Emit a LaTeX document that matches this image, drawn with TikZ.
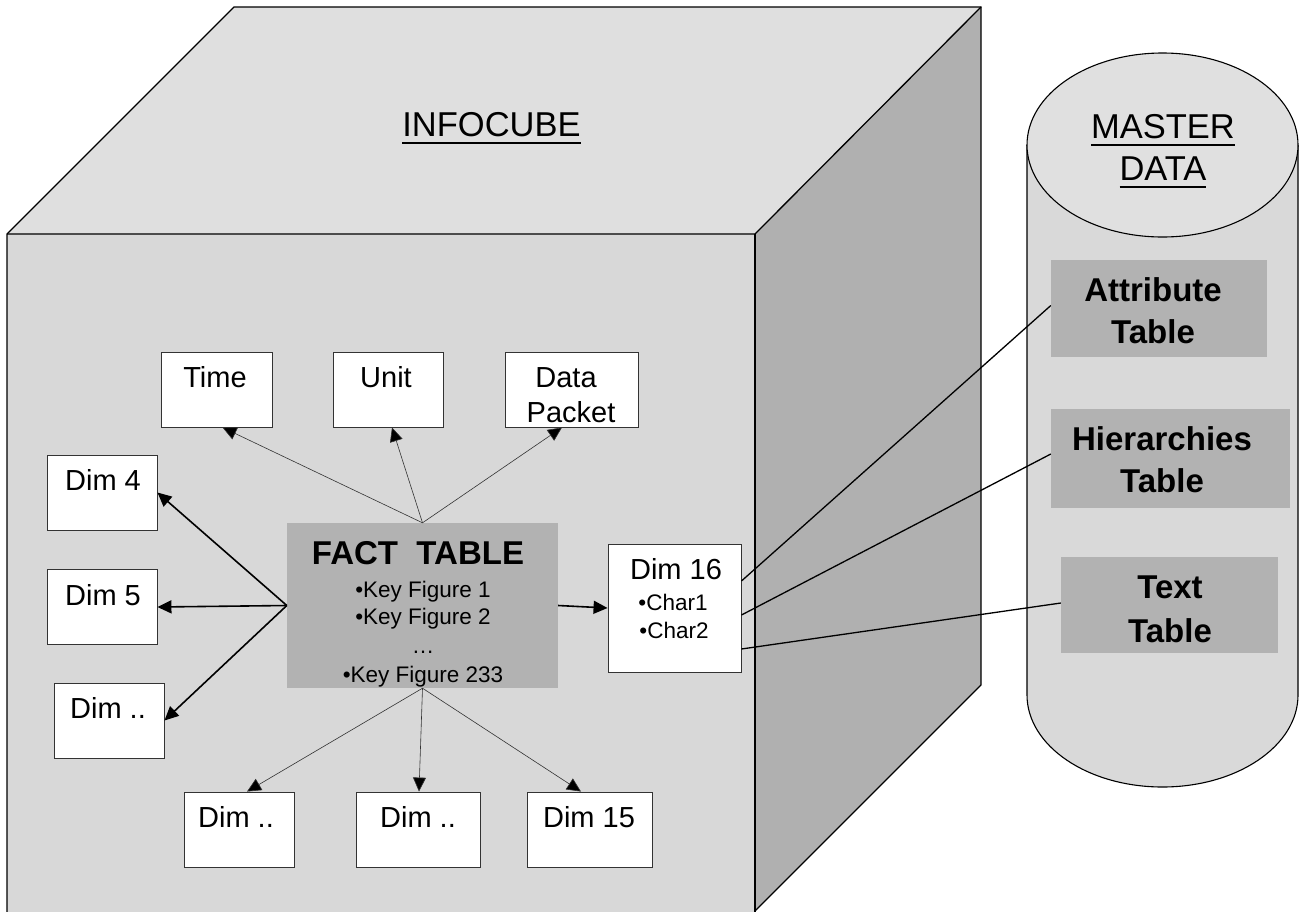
\documentclass[tikz,border=0pt]{standalone}
\usepackage{fontspec}
\setmainfont{Liberation Sans}
\usetikzlibrary{arrows.meta,calc}

% underlined word with a bar scaled to the large type
\newcommand{\ulword}[1]{\sbox0{#1}\rlap{\rule[-8pt]{\wd0}{1.8pt}}\usebox0}

\definecolor{topgray}{HTML}{DFDFDF}
\definecolor{frontgray}{HTML}{D8D8D8}
\definecolor{sidegray}{HTML}{B0B0B0}
\definecolor{cylgray}{HTML}{D9D9D9}
\definecolor{cyltop}{HTML}{E0E0E0}
\definecolor{factgray}{HTML}{B2B2B2}

\begin{document}
\begin{tikzpicture}[x=1pt,y=-1pt,
  cubeline/.style={line width=1.3pt, draw=black, line join=miter},
  dbox/.style={draw=black!80, line width=0.9pt, fill=white, inner sep=0pt, minimum height=75pt},
  tbox/.style={fill=factgray, inner sep=0pt},
  lbl/.style={anchor=base, inner sep=0pt, font=\fontsize{29}{31}\selectfont},
  small/.style={anchor=base, inner sep=0pt, font=\fontsize{22.5}{24}\selectfont},
  head/.style={anchor=base, inner sep=0pt, font=\fontsize{34.5}{36}\selectfont},
  bhead/.style={anchor=base, inner sep=0pt, font=\fontsize{33}{35}\selectfont\bfseries},
  thinarrow/.style={draw=black!80, line width=0.6pt, -{Triangle[length=14pt,width=13pt,fill=black]}},
  thickarrow/.style={draw=black, line width=1.6pt, -{Triangle[length=14pt,width=13pt]}},
  link/.style={draw=black, line width=1.3pt}]

\useasboundingbox (0,0) rectangle (1300,911);
\clip (0,0) rectangle (1300,911);

% ---- the cube ----
\fill[topgray] (7,234) -- (234,7) -- (981,7) -- (755,234) -- cycle;
\fill[frontgray] (7,234) rectangle (755,940);
\fill[sidegray] (755,234) -- (981,7) -- (981,685) -- (755,911) -- cycle;
\draw[cubeline] (7,940) -- (7,234) -- (234,7) -- (981,7) -- (981,685) -- (755,911);
\draw[cubeline] (7,234) -- (755,234) -- (981,7);
\draw[cubeline] (755,234) -- (755,940);

\node[head] (infocube) at (491.5,136) {\ulword{INFOCUBE}};

% ---- the master data cylinder ----
\fill[cylgray] (1027,145) -- (1027,695)
  arc[start angle=180, end angle=360, x radius=135.5pt, y radius=92pt] -- (1298,145) -- cycle;
\draw[line width=1.1pt] (1027,145) -- (1027,695)
  arc[start angle=180, end angle=360, x radius=135.5pt, y radius=92pt] -- (1298,145);
\draw[line width=1.1pt, fill=cyltop] (1162.5,145) ellipse[x radius=135.5pt, y radius=92pt];

\node[head] (master) at (1163,138) {\ulword{MASTER}};
\node[head] (data) at (1163,180) {\ulword{DATA}};

% ---- master data tables ----
\node[tbox, minimum width=216pt, minimum height=97pt] (attr) at (1159,308.5) {};
\node[tbox, minimum width=239pt, minimum height=99pt] (hier) at (1170.5,458.5) {};
\node[tbox, minimum width=217pt, minimum height=96pt] (textt) at (1169.5,605) {};
\node[bhead] (attrA) at (1153,301) {Attribute};
\node[bhead] (attrB) at (1153,343) {Table};
\node[bhead] (hierA) at (1162,450) {Hierarchies};
\node[bhead] (hierB) at (1162,492) {Table};
\node[bhead] (textA) at (1170,598) {Text};
\node[bhead] (textB) at (1170,642) {Table};

% ---- fact table ----
\node[tbox, minimum width=271pt, minimum height=165pt] (fact) at (422.5,605.5) {};
\node[bhead] (factT) at (418,564) {FACT\ \ TABLE};
\node[small] (kf1) at (423,597) {•Key Figure 1};
\node[small] (kf2) at (423,624) {•Key Figure 2};
\node[small] (kfd) at (423,653) {…};
\node[small] (kf3) at (423,682) {•Key Figure 233};

% ---- dimension boxes ----
\node[dbox, minimum width=111pt] (time) at (216.5,389.5) {};
\node[dbox, minimum width=110pt] (unit) at (388,389.5) {};
\node[dbox, minimum width=133pt] (dpk) at (571.5,389.5) {};
\node[dbox, minimum width=110pt] (dim4) at (102,492.5) {};
\node[dbox, minimum width=110pt] (dim5) at (102,607) {};
\node[dbox, minimum width=110pt] (dimL) at (109,720.5) {};
\node[dbox, minimum width=110pt] (dimA) at (239,829.5) {};
\node[dbox, minimum width=124pt] (dimB) at (418,829.5) {};
\node[dbox, minimum width=125pt] (dim15) at (589.5,829.5) {};
\node[dbox, minimum width=133pt, minimum height=128pt] (dim16) at (674.5,608) {};

\node[lbl] (timeT) at (215,387) {Time};
\node[lbl] (unitT) at (386,387) {Unit};
\node[lbl] (dpkA) at (566,387) {Data};
\node[lbl] (dpkB) at (571,422) {Packet};
\node[lbl] (dim4T) at (103,490) {Dim 4};
\node[lbl] (dim5T) at (103,605) {Dim 5};
\node[lbl] (dimLT) at (108,718) {Dim ..};
\node[lbl] (dimAT) at (236,827) {Dim ..};
\node[lbl] (dimBT) at (418,827) {Dim ..};
\node[lbl] (dim15T) at (589,827) {Dim 15};
\node[lbl] (dim16T) at (676,579) {Dim 16};
\node[small] (ch1) at (673,610) {•Char1};
\node[small] (ch2) at (674,638) {•Char2};

% ---- connectors ----
\draw[thinarrow] (fact.north) -- ([xshift=6pt]time.south);
\draw[thinarrow] (fact.north) -- ([xshift=4pt]unit.south);
\draw[thinarrow] (fact.north) -- ([xshift=-9.5pt]dpk.south);
\draw[thinarrow] (fact.south) -- ([xshift=8pt]dimA.north);
\draw[thinarrow] (fact.south) -- ([xshift=1pt]dimB.north);
\draw[thinarrow] (fact.south) -- ([xshift=-8.5pt]dim15.north);
\draw[thickarrow] (fact.west) -- (dim4.east);
\draw[thickarrow] (fact.west) -- (dim5.east);
\draw[thickarrow] (fact.west) -- (dimL.east);
\draw[thickarrow] (fact.east) -- (dim16.west);

\draw[link] ([yshift=27pt]dim16.east) -- ([yshift=3pt]attr.west);
\draw[link] ([yshift=-7pt]dim16.east) -- ([yshift=4.5pt]hier.west);
\draw[link] ([yshift=-41pt]dim16.east) -- ([yshift=2pt]textt.west);

\end{tikzpicture}
\end{document}
